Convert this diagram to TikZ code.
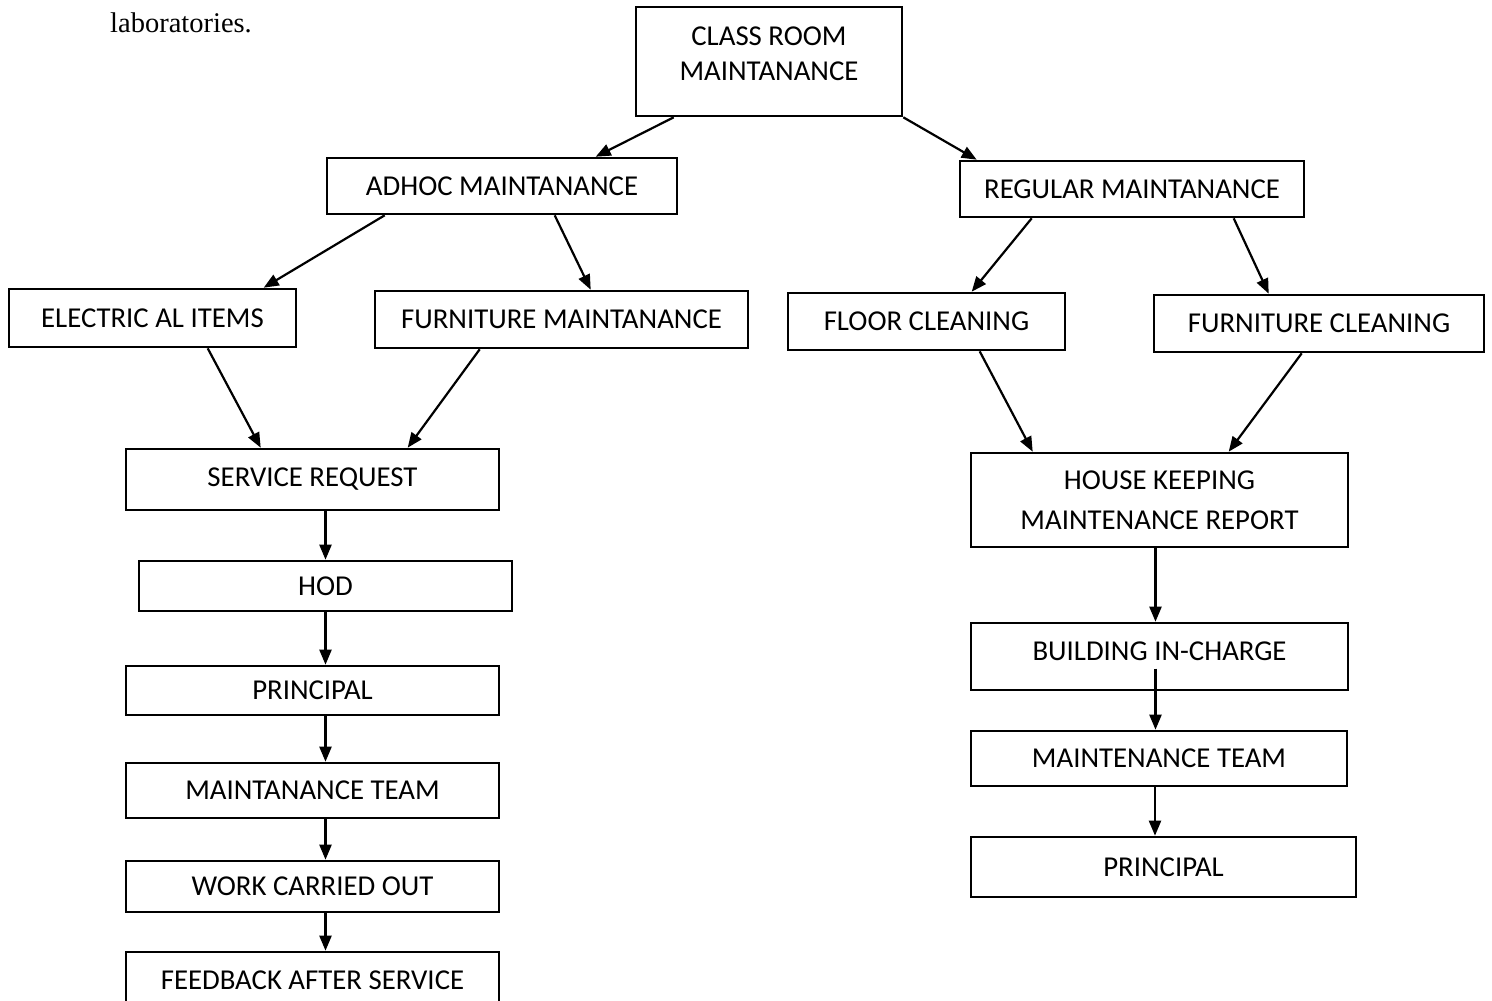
\documentclass[tikz,border=0pt]{standalone}
\usepackage{fontspec}
\setmainfont{Carlito}
\newfontfamily\timesf{Liberation Serif}
\usetikzlibrary{arrows.meta}
\tikzset{
  box/.style={draw, line width=2.6pt, inner sep=0pt, align=center,
    font=\fontsize{28.8}{35}\selectfont},
  lbl/.style={inner sep=0pt, align=center, font=\fontsize{28.8}{35}\selectfont},
  arr/.style={line width=2.2pt, -{Triangle[length=15pt,width=12pt]}}
}
\begin{document}
\begin{tikzpicture}[x=1pt,y=-1pt]
\useasboundingbox (0,0) rectangle (1492,1001);
\clip (0,0) rectangle (1492,1001);
\fill[white] (0,0) rectangle (1492,1001);

\node[inner sep=0pt, anchor=base west, font=\timesf\fontsize{28.5}{30}\selectfont] (lab) at (110,32) {laboratories.};

% top
\node[box, minimum width=266pt, minimum height=109pt] (crm) at (769,61.5) {};
\node[lbl] (crmt) at (769,53.5) {CLASS ROOM\\MAINTANANCE};

\node[box, minimum width=350pt, minimum height=56pt] (adhoc) at (502,186) {ADHOC MAINTANANCE};
\node[box, minimum width=344pt, minimum height=56pt] (reg) at (1132,189) {REGULAR MAINTANANCE};

\node[box, minimum width=287pt, minimum height=58pt] (elec) at (152.5,318) {ELECTRIC AL ITEMS};
\node[box, minimum width=373pt, minimum height=57pt] (furm) at (561.5,319.5) {FURNITURE MAINTANANCE};
\node[box, minimum width=277pt, minimum height=57pt] (floor) at (926.5,321.5) {FLOOR CLEANING};
\node[box, minimum width=330pt, minimum height=57pt] (furc) at (1319,323.5) {FURNITURE CLEANING};

% left column
\node[box, minimum width=373pt, minimum height=61pt] (sr) at (312.5,479.5) {SERVICE REQUEST};
\node[box, minimum width=373pt, minimum height=50pt] (hod) at (325.5,586) {HOD};
\node[box, minimum width=373pt, minimum height=49pt] (prl) at (312.5,690.5) {PRINCIPAL};
\node[box, minimum width=373pt, minimum height=55pt] (mtl) at (312.5,790.5) {MAINTANANCE TEAM};
\node[box, minimum width=373pt, minimum height=51pt] (wco) at (312.5,886.5) {WORK CARRIED OUT};
\node[box, minimum width=373pt, minimum height=56pt] (fb) at (312.5,980) {FEEDBACK AFTER SERVICE};

% right column
\node[box, minimum width=377pt, minimum height=94pt, font=\fontsize{28.8}{40}\selectfont] (hk) at (1159.5,500) {HOUSE KEEPING\\MAINTENANCE REPORT};
\node[box, minimum width=377pt, minimum height=67pt] (bic) at (1159.5,656.5) {};
\node[lbl] (bict) at (1159.5,651) {BUILDING IN-CHARGE};
\node[box, minimum width=376pt, minimum height=55pt] (mtr) at (1159,758.5) {MAINTENANCE TEAM};
\node[box, minimum width=385pt, minimum height=60pt] (prr) at (1163.5,867) {PRINCIPAL};

% connectors
\draw[arr] ([xshift=39pt]crm.south west) -- ([xshift=270pt]adhoc.north west);
\draw[arr] (crm.south east) -- ([xshift=18pt]reg.north west);
\draw[arr] ([xshift=59pt]adhoc.south west) -- ([xshift=256pt]elec.north west);
\draw[arr] ([xshift=229pt]adhoc.south west) -- ([xshift=217pt]furm.north west);
\draw[arr] ([xshift=73pt]reg.south west) -- ([xshift=185pt]floor.north west);
\draw[arr] ([xshift=275pt]reg.south west) -- ([xshift=116pt]furc.north west);
\draw[arr] ([xshift=200pt]elec.south west) -- ([xshift=136pt]sr.north west);
\draw[arr] ([xshift=106pt]furm.south west) -- ([xshift=283pt]sr.north west);
\draw[arr] ([xshift=193pt]floor.south west) -- ([xshift=63pt]hk.north west);
\draw[arr] ([xshift=149pt]furc.south west) -- ([xshift=259pt]hk.north west);

\draw[arr] (sr.south -| hod.north) -- (hod.north);
\draw[arr] (hod.south) -- (prl.north -| hod.south);
\draw[arr] (prl.south -| hod.south) -- (mtl.north -| hod.south);
\draw[arr] (mtl.south -| hod.south) -- (wco.north -| hod.south);
\draw[arr] (wco.south -| hod.south) -- (fb.north -| hod.south);

\draw[arr] ([xshift=-4pt]hk.south) -- ([xshift=-4pt]bic.north);
\draw[arr] ([xshift=-4pt,yshift=-12pt]bic.center) -- ([xshift=-4pt]bic.center |- mtr.north);
\draw[arr] ([xshift=-4pt]mtr.south) -- ([xshift=-4pt]mtr.south |- prr.north);
\end{tikzpicture}
\end{document}
